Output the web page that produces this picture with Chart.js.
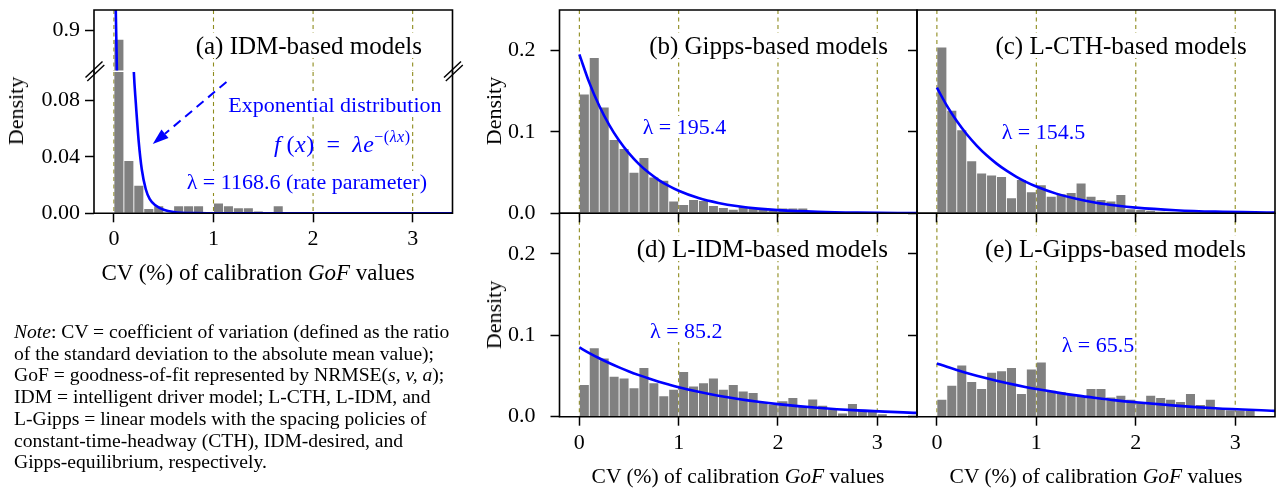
<!DOCTYPE html>
<html>
<head>
<meta charset="utf-8">
<script src="https://cdn.jsdelivr.net/npm/chart.js@4.4.1/dist/chart.umd.min.js"></script>
<style>
  body { margin: 0; background: #fff; }
  #stage { position: relative; width: 1276px; height: 490px; overflow: hidden; background: #fff;
           font-family: 'Liberation Serif', 'Times New Roman', serif; color: #000; }
  #stage canvas { position: absolute; left: 0; top: 0; }
  .lbl { position: absolute; white-space: nowrap; line-height: 1; background: #fff; }
  .title { font-size: 25px; }
  .blue { color: #0000ff; font-size: 22px; }
  .axt { font-size: 21.5px; text-align: center; width: 400px; background: none; }
  .dens { font-size: 22px; transform: translate(-50%, -50%) rotate(-90deg); background: none; }
  .note { position: absolute; left: 14px; top: 321px; font-size: 19.6px; line-height: 21.7px; white-space: nowrap; }
  .math { font-size: 24px; letter-spacing: 0.5px; }
  sup { font-size: 16px; vertical-align: 10px; line-height: 0; }
</style>
</head>
<body>
<div id="stage">
  <div class="lbl title" style="right:854px; top:33px">(a) IDM-based models</div>
  <div class="lbl title" style="right:388px; top:33.3px">(b) Gipps-based models</div>
  <div class="lbl title" style="right:29.3px; top:33.3px">(c) L-CTH-based models</div>
  <div class="lbl title" style="right:388px; top:236.2px">(d) L-IDM-based models</div>
  <div class="lbl title" style="right:30px; top:236.2px">(e) L-Gipps-based models</div>

  <div class="lbl blue" style="left:228.3px; top:94.3px">Exponential distribution</div>
  <div class="lbl blue math" style="left:274px; top:132px; background:none"><i>f</i>&thinsp;(<i>x</i>)&nbsp;&thinsp;=&nbsp;&thinsp;<i>λe</i><sup>−(<i>λx</i>)</sup></div>
  <div class="lbl blue" style="left:186.7px; top:171px">λ = 1168.6 (rate parameter)</div>
  <div class="lbl blue" style="left:642.7px; top:115.5px">λ = 195.4</div>
  <div class="lbl blue" style="left:1001.7px; top:121px">λ = 154.5</div>
  <div class="lbl blue" style="left:650px; top:320px">λ = 85.2</div>
  <div class="lbl blue" style="left:1061.7px; top:333.8px">λ = 65.5</div>

  <div class="lbl axt" style="left:58px; top:260.5px; font-size:23px">CV (%) of calibration <i>GoF</i> values</div>
  <div class="lbl axt" style="left:538px; top:466px">CV (%) of calibration <i>GoF</i> values</div>
  <div class="lbl axt" style="left:896px; top:466px">CV (%) of calibration <i>GoF</i> values</div>

  <div class="lbl dens" style="left:16px; top:111px">Density</div>
  <div class="lbl dens" style="left:494px; top:111px">Density</div>
  <div class="lbl dens" style="left:494px; top:315px">Density</div>

  <div class="note"><i>Note</i>: CV = coefficient of variation (defined as the ratio<br>of the standard deviation to the absolute mean value);<br>GoF = goodness-of-fit represented by NRMSE(<i>s, v, a</i>);<br>IDM = intelligent driver model; L-CTH, L-IDM, and<br>L-Gipps = linear models with the spacing policies of<br>constant-time-headway (CTH), IDM-desired, and<br>Gipps-equilibrium, respectively.</div>
</div>
<script>
// histogram bins (centres of 0.1-wide CV bins, in %)
const cvBins = [0.05, 0.15, 0.25, 0.35, 0.45, 0.55, 0.65, 0.75, 0.85, 0.95,
                1.05, 1.15, 1.25, 1.35, 1.45, 1.55, 1.65, 1.75, 1.85, 1.95,
                2.05, 2.15, 2.25, 2.35, 2.45, 2.55, 2.65, 2.75, 2.85, 2.95,
                3.05, 3.15];

const idmDensity = [0.882, 0.037, 0.0195, 0.0030, 0.005, 0, 0.005, 0.005, 0.005, 0,
                    0.007, 0.005, 0.0036, 0.0036, 0.0012, 0, 0.005, 0, 0.0008, 0,
                    0, 0, 0, 0, 0, 0, 0, 0, 0, 0, 0, 0];
const gippsDensity = [0.146, 0.191, 0.130, 0.090, 0.079, 0.050, 0.068, 0.044, 0.040, 0.0144,
                      0.0103, 0.0165, 0.015, 0.009, 0.0066, 0.0045, 0.008, 0.006, 0.004, 0.003,
                      0.006, 0.006, 0.006, 0, 0, 0, 0, 0, 0, 0, 0, 0];
const lcthDensity = [0.204, 0.126, 0.102, 0.064, 0.049, 0.0465, 0.0445, 0.0185, 0.041, 0.026,
                     0.0345, 0.0205, 0.0235, 0.025, 0.0366, 0.0205, 0.0165, 0.0144, 0.0226, 0.005,
                     0.004, 0.003, 0.002, 0.001, 0.001, 0, 0, 0, 0, 0, 0, 0];
const lidmDensity = [0.039, 0.084, 0.0714, 0.049, 0.047, 0.035, 0.060, 0.041, 0.025, 0.033,
                     0.055, 0.037, 0.041, 0.047, 0.033, 0.039, 0.031, 0.029, 0.018, 0.015,
                     0.019, 0.023, 0.013, 0.021, 0.0135, 0.009, 0.004, 0.0155, 0.008, 0.007,
                     0.003, 0];
const lgippsDensity = [0.0207, 0.038, 0.063, 0.0426, 0.034, 0.054, 0.056, 0.060, 0.028, 0.058,
                       0.0665, 0.032, 0.030, 0.028, 0.025, 0.034, 0.034, 0.0235, 0.0256, 0.0207,
                       0.017, 0.0256, 0.023, 0.0207, 0.018, 0.028, 0.0145, 0.0207, 0.010, 0.008,
                       0.0075, 0.007];

// fitted exponential curves
const idmCurveX = [0, 0.01, 0.02, 0.03, 0.05, 0.1, 0.15, 0.2, 0.22, 0.25, 0.28, 0.32, 0.36, 0.42, 0.5, 0.6, 0.8, 1.0, 3.4];
const idmCurve  = [1.1686, 1.04, 0.925, 0.823, 0.65, 0.364, 0.203, 0.1, 0.078, 0.05, 0.031, 0.017, 0.010, 0.0055, 0.0025, 0.0009, 0.0001, 0, 0];
const curveX      = [0, 0.1, 0.2, 0.3, 0.4, 0.5, 0.6, 0.7, 0.8, 0.9, 1.0, 1.2, 1.4, 1.6, 1.8, 2.0, 2.4, 2.8, 3.4];
const gippsCurve  = [0.1954, 0.1607, 0.1322, 0.1087, 0.0894, 0.0736, 0.0605, 0.0498, 0.0409, 0.0337, 0.0277, 0.0187, 0.0127, 0.0086, 0.0058, 0.0039, 0.0018, 0.0008, 0.00025];
const lcthCurve   = [0.1545, 0.1324, 0.1134, 0.0972, 0.0833, 0.0713, 0.0611, 0.0524, 0.0449, 0.0384, 0.0329, 0.0242, 0.0178, 0.0130, 0.0096, 0.0070, 0.0038, 0.0020, 0.0008];
const lidmCurve   = [0.0852, 0.0782, 0.0718, 0.0660, 0.0606, 0.0556, 0.0511, 0.0469, 0.0431, 0.0396, 0.0363, 0.0306, 0.0258, 0.0218, 0.0184, 0.0155, 0.0110, 0.0078, 0.0047];
const lgippsCurve = [0.0655, 0.0613, 0.0575, 0.0538, 0.0504, 0.0472, 0.0442, 0.0414, 0.0388, 0.0363, 0.0340, 0.0299, 0.0262, 0.0230, 0.0201, 0.0177, 0.0136, 0.0104, 0.0071];

// tick labels
const xTicks = [0, 1, 2, 3];
const densityTicks = [0, 0.1, 0.2];
const idmLowTicks = [0, 0.04, 0.08];
const idmHighTicks = [0.9];

// annotation arrow in panel (a), data units
const arrowFrom = [1.13, 0.093];
const arrowTo = [0.39, 0.049];

Chart.defaults.font.family = "'Liberation Serif', 'Times New Roman', serif";
Chart.defaults.font.size = 22;
Chart.defaults.color = '#000';
Chart.defaults.animation = false;

const W = 1276, H = 490, Y_W = 60, X_H = 40;
const stage = document.getElementById('stage');

const guides = {
    id: 'guides',
    beforeDatasetsDraw(chart) {
        const ctx = chart.ctx, area = chart.chartArea, xs = chart.scales.x;
        ctx.save();
        ctx.strokeStyle = '#8f8c1e';
        ctx.lineWidth = 1.1;
        ctx.setLineDash([4, 3.5]);
        xTicks.forEach(v => {
            const px = xs.getPixelForValue(v);
            ctx.beginPath();
            ctx.moveTo(px, area.top);
            ctx.lineTo(px, area.bottom);
            ctx.stroke();
        });
        ctx.restore();
    }
};

const frame = {
    id: 'frame',
    afterDatasetsDraw(chart, args, o) {
        const ctx = chart.ctx, a = chart.chartArea;
        const t = a.top - (o.extendTop || 0), b = a.bottom + (o.extendBottom || 0);
        ctx.save();
        ctx.strokeStyle = '#000';
        ctx.lineWidth = 1.6;
        ctx.lineCap = 'square';
        ctx.beginPath();
        if (o.sides.includes('l')) { ctx.moveTo(a.left, t); ctx.lineTo(a.left, b); }
        if (o.sides.includes('r')) { ctx.moveTo(a.right, t); ctx.lineTo(a.right, b); }
        if (o.sides.includes('t')) { ctx.moveTo(a.left, a.top); ctx.lineTo(a.right, a.top); }
        if (o.sides.includes('b')) { ctx.moveTo(a.left, a.bottom); ctx.lineTo(a.right, a.bottom); }
        ctx.stroke();
        ctx.restore();
    }
};

const arrow = {
    id: 'arrow',
    afterDatasetsDraw(chart) {
        const ctx = chart.ctx, xs = chart.scales.x, ys = chart.scales.y;
        const x0 = xs.getPixelForValue(arrowFrom[0]), y0 = ys.getPixelForValue(arrowFrom[1]);
        const x1 = xs.getPixelForValue(arrowTo[0]), y1 = ys.getPixelForValue(arrowTo[1]);
        const ang = Math.atan2(y1 - y0, x1 - x0);
        const head = 16, half = 5.5;
        const bx = x1 - head * Math.cos(ang), by = y1 - head * Math.sin(ang);
        ctx.save();
        ctx.strokeStyle = '#0000ff';
        ctx.fillStyle = '#0000ff';
        ctx.lineWidth = 2;
        ctx.setLineDash([9, 6]);
        ctx.beginPath();
        ctx.moveTo(x0, y0);
        ctx.lineTo(bx, by);
        ctx.stroke();
        ctx.setLineDash([]);
        ctx.beginPath();
        ctx.moveTo(x1, y1);
        ctx.lineTo(bx + half * Math.sin(ang), by - half * Math.cos(ang));
        ctx.lineTo(bx - half * Math.sin(ang), by + half * Math.cos(ang));
        ctx.closePath();
        ctx.fill();
        ctx.restore();
    }
};

// the "//" marks of the broken y axis
const breakMarks = {
    id: 'breakMarks',
    afterDraw(chart) {
        const ctx = chart.ctx, a = chart.chartArea;
        ctx.save();
        ctx.strokeStyle = '#000';
        ctx.lineWidth = 1.4;
        [a.left, a.right].forEach(x => {
            [[0, -2.5], [1.8, 1]].forEach(([dx, dy]) => {
                const cx = x + dx, cy = a.top + dy;
                ctx.beginPath();
                ctx.moveTo(cx - 8.5, cy + 8);
                ctx.lineTo(cx + 8.5, cy - 8);
                ctx.stroke();
            });
        });
        ctx.restore();
    }
};

function makePanel(cfg) {
    const cv = document.createElement('canvas');
    cv.width = W;
    cv.height = H;
    stage.insertBefore(cv, stage.firstChild);
    const a = cfg.area;
    const xH = cfg.xAxis ? X_H : 0;
    const gridOpts = { display: true, drawOnChartArea: false, drawTicks: true, tickLength: 9,
                       tickWidth: 1.5, tickColor: '#000', color: '#000', offset: false };
    return new Chart(cv, {
        type: 'bar',
        data: {
            datasets: [
                {
                    type: 'line',
                    data: cfg.curveX.map((x, i) => ({ x: x, y: cfg.curve[i] })),
                    borderColor: '#0000ff',
                    borderWidth: 2.6,
                    pointRadius: 0,
                    cubicInterpolationMode: 'monotone',
                    fill: false,
                    order: 0
                },
                {
                    type: 'bar',
                    data: cvBins.map((x, i) => ({ x: x, y: cfg.bars[i] })),
                    backgroundColor: '#808080',
                    barPercentage: 0.91,
                    categoryPercentage: 1,
                    order: 1
                }
            ]
        },
        options: {
            responsive: false,
            animation: false,
            events: [],
            layout: { padding: { left: a.l - Y_W, top: a.t, right: W - a.r, bottom: H - a.b - xH } },
            plugins: {
                legend: { display: false },
                tooltip: { enabled: false },
                frame: { sides: cfg.sides, extendBottom: cfg.extendBottom || 0 }
            },
            scales: {
                x: {
                    type: 'linear',
                    min: -0.2,
                    max: 3.4,
                    offset: false,
                    display: cfg.xAxis,
                    afterFit(s) {
                        if (cfg.xAxis) s.height = X_H;
                        s.paddingLeft = 0;
                        s.paddingRight = 0;
                    },
                    afterBuildTicks(s) { s.ticks = xTicks.map(v => ({ value: v })); },
                    grid: gridOpts,
                    border: { display: false },
                    ticks: { display: cfg.xLabels, padding: 4, callback: v => String(v) }
                },
                y: {
                    type: 'linear',
                    min: cfg.yMin,
                    max: cfg.yMax,
                    afterFit(s) {
                        s.width = Y_W;
                        s.paddingTop = 0;
                        s.paddingBottom = 0;
                    },
                    afterBuildTicks(s) { s.ticks = cfg.yTicks.map(v => ({ value: v })); },
                    grid: gridOpts,
                    border: { display: false },
                    ticks: { display: cfg.yLabels, padding: cfg.yPad, callback: v => v.toFixed(cfg.yDigits) }
                }
            }
        },
        plugins: [guides, frame].concat(cfg.extra || [])
    });
}

// (a) upper part of the broken axis
makePanel({ area: { l: 94, r: 452.5, t: 10, b: 70.5 }, bars: idmDensity, curveX: idmCurveX, curve: idmCurve,
            yMin: 0.822, yMax: 0.94, yTicks: idmHighTicks, yDigits: 1, yLabels: true, yPad: 5,
            xAxis: false, xLabels: false, sides: 'tlr', extendBottom: 1.5 });
// (a) lower part
makePanel({ area: { l: 94, r: 452.5, t: 72, b: 213.3 }, bars: idmDensity, curveX: idmCurveX, curve: idmCurve,
            yMin: 0, yMax: 0.1, yTicks: idmLowTicks, yDigits: 2, yLabels: true, yPad: 5,
            xAxis: true, xLabels: true, sides: 'lrb', extra: [arrow, breakMarks] });
// (b) Gipps
makePanel({ area: { l: 559.5, r: 917, t: 10, b: 213.3 }, bars: gippsDensity, curveX: curveX, curve: gippsCurve,
            yMin: 0, yMax: 0.25, yTicks: densityTicks, yDigits: 1, yLabels: true, yPad: 15,
            xAxis: true, xLabels: false, sides: 'tlrb' });
// (c) L-CTH
makePanel({ area: { l: 917, r: 1275, t: 10, b: 213.3 }, bars: lcthDensity, curveX: curveX, curve: lcthCurve,
            yMin: 0, yMax: 0.25, yTicks: densityTicks, yDigits: 1, yLabels: false, yPad: 15,
            xAxis: true, xLabels: false, sides: 'tlrb' });
// (d) L-IDM
makePanel({ area: { l: 559.5, r: 917, t: 213.3, b: 416.7 }, bars: lidmDensity, curveX: curveX, curve: lidmCurve,
            yMin: 0, yMax: 0.25, yTicks: densityTicks, yDigits: 1, yLabels: true, yPad: 15,
            xAxis: true, xLabels: true, sides: 'tlrb' });
// (e) L-Gipps
makePanel({ area: { l: 917, r: 1275, t: 213.3, b: 416.7 }, bars: lgippsDensity, curveX: curveX, curve: lgippsCurve,
            yMin: 0, yMax: 0.25, yTicks: densityTicks, yDigits: 1, yLabels: false, yPad: 15,
            xAxis: true, xLabels: true, sides: 'tlrb' });
</script>
</body>
</html>
